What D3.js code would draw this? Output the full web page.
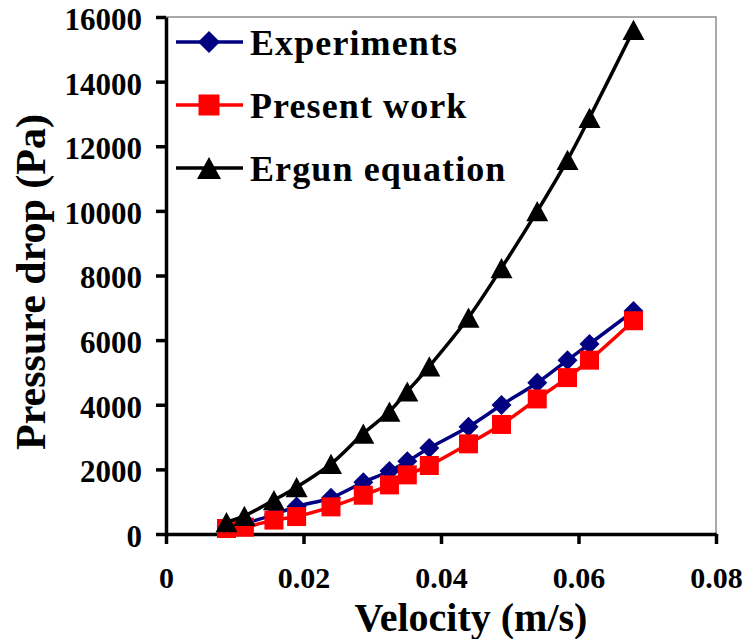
<!DOCTYPE html>
<html>
<head>
<meta charset="utf-8">
<script src="https://cdn.jsdelivr.net/npm/d3@7/dist/d3.min.js"></script>
<style>
  html, body { margin: 0; padding: 0; background: #fff; }
  svg { display: block; }
</style>
</head>
<body>
<svg id="chart" width="747" height="639"></svg>
<script>
// Superficial velocity (m/s) shared by all series
const velocity = [0.0088, 0.0114, 0.0157, 0.0190, 0.0240, 0.0287, 0.0325, 0.0351,
                  0.0383, 0.0440, 0.0488, 0.0540, 0.0584, 0.0616, 0.0680];
// Pressure drop (Pa)
const experiments = [240, 330, 600, 850, 1120, 1600, 1950, 2250, 2660, 3320, 3990, 4680, 5380, 5880, 6900];
const presentWork = [170, 210, 430, 540, 840, 1200, 1520, 1830, 2120, 2790, 3390, 4180, 4840, 5380, 6600];
const ergun = [370, 560, 1050, 1450, 2170, 3110, 3790, 4410, 5190, 6700, 8230, 9990, 11580, 12880, 15600];

const seriesNames = ["Experiments", "Present work", "Ergun equation"];
const xTicks = [0, 0.02, 0.04, 0.06, 0.08];
const xTickLabels = ["0", "0.02", "0.04", "0.06", "0.08"];
const yTicks = [0, 2000, 4000, 6000, 8000, 10000, 12000, 14000, 16000];
const yTickLabels = ["0", "2000", "4000", "6000", "8000", "10000", "12000", "14000", "16000"];

const FONT = "'Liberation Serif', 'Times New Roman', Times, serif";
const svg = d3.select("#chart")
  .attr("font-family", FONT).attr("font-weight", "bold");
const plot = { left: 166, right: 716, top: 17, bottom: 534 };

const x = d3.scaleLinear().domain([0, 0.08]).range([plot.left, plot.right]);
const y = d3.scaleLinear().domain([0, 16000]).range([plot.bottom, plot.top]);

// Plot area frame (thin grey) on the top and right
svg.append("path")
  .attr("d", `M${plot.left},${plot.top}H${plot.right}V${plot.bottom}`)
  .attr("fill", "none").attr("stroke", "#8c8c8c").attr("stroke-width", 1.5);

// Axes
const xAxis = svg.append("g").attr("transform", `translate(0,${plot.bottom})`)
  .call(d3.axisBottom(x).tickValues(xTicks)
        .tickFormat((d, i) => xTickLabels[i]).tickSize(10).tickSizeOuter(0).tickPadding(23));
const yAxis = svg.append("g").attr("transform", `translate(${plot.left},0)`)
  .call(d3.axisLeft(y).tickValues(yTicks)
        .tickFormat((d, i) => yTickLabels[i]).tickSize(10).tickSizeOuter(0).tickPadding(14));

[xAxis, yAxis].forEach(g => {
  g.attr("font-family", FONT).attr("font-weight", "bold");
  g.select(".domain").attr("stroke", "#000").attr("stroke-width", 3.5);
  g.selectAll(".tick line").attr("stroke", "#000").attr("stroke-width", 3.5);
  g.selectAll(".tick text").attr("fill", "#000");
});
xAxis.attr("font-size", 30);
yAxis.attr("font-size", 31);
yAxis.selectAll(".tick text").attr("dy", "0.4em");
xAxis.selectAll(".tick text").attr("dy", "0.71em");

// Axis titles
svg.append("text").attr("x", 471).attr("y", 631).attr("text-anchor", "middle")
  .attr("font-size", 40).text("Velocity (m/s)");
svg.append("text").attr("transform", "translate(45,282) rotate(-90)")
  .attr("text-anchor", "middle").attr("font-size", 42).text("Pressure drop (Pa)");

// Marker shapes, centred on the data point
const markers = {
  diamond: (w) => `M0,${-w / 2}L${w / 2},0L0,${w / 2}L${-w / 2},0Z`,
  square: (w) => `M${-w / 2},${-w / 2}h${w}v${w}h${-w}Z`,
  triangle: (w) => { const h = w * 0.92; return `M0,${-h / 2}L${w / 2},${h / 2}L${-w / 2},${h / 2}Z`; }
};

const series = [
  { name: seriesNames[0], values: experiments, color: "#000080", marker: "diamond", size: 20 },
  { name: seriesNames[1], values: presentWork, color: "#ff0000", marker: "square", size: 19 },
  { name: seriesNames[2], values: ergun, color: "#000000", marker: "triangle", size: 22 }
];

const line = d3.line().x(d => x(d[0])).y(d => y(d[1])).curve(d3.curveCatmullRom.alpha(0.5));

series.forEach(s => {
  const pts = velocity.map((v, i) => [v, s.values[i]]);
  const g = svg.append("g");
  g.append("path").datum(pts).attr("d", line)
    .attr("fill", "none").attr("stroke", s.color).attr("stroke-width", 3.5);
  g.selectAll("path.m").data(pts).join("path").attr("class", "m")
    .attr("d", markers[s.marker](s.size))
    .attr("transform", d => `translate(${x(d[0])},${y(d[1])})`)
    .attr("fill", s.color);
});

// Legend
const legend = svg.append("g");
const legendY = [42, 105, 168];
series.forEach((s, i) => {
  const ly = legendY[i];
  legend.append("line").attr("x1", 176).attr("x2", 243).attr("y1", ly).attr("y2", ly)
    .attr("stroke", s.color).attr("stroke-width", 3.5);
  legend.append("path").attr("d", markers[s.marker](s.size + 2))
    .attr("transform", `translate(209,${ly})`).attr("fill", s.color);
  legend.append("text").attr("x", 250).attr("y", ly + 13).attr("font-size", 36)
    .attr("letter-spacing", 1.1).text(s.name);
});
</script>
</body>
</html>
